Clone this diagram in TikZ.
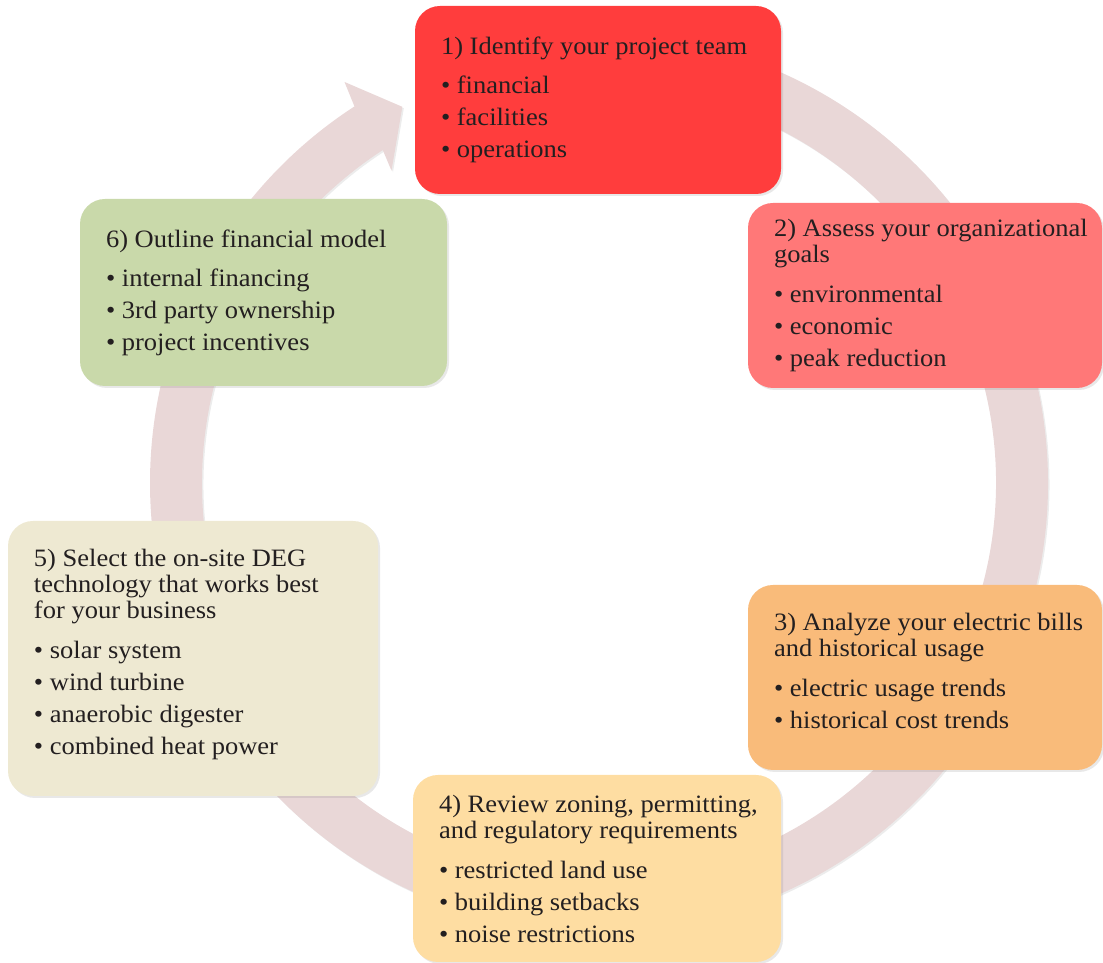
\documentclass[tikz,border=0pt]{standalone}
\usepackage{fontspec}
\setmainfont{Liberation Serif}[FakeStretch=1.06]
\usepackage{tikz}
\usetikzlibrary{shapes, arrows.meta, positioning, calc, shadows}
\definecolor{ringpink}{RGB}{233, 215, 215}
\definecolor{teamred}{RGB}{255, 61, 61}
\definecolor{goalred}{RGB}{255, 120, 120}
\definecolor{billorange}{RGB}{249, 187, 122}
\definecolor{zonesand}{RGB}{254, 221, 162}
\definecolor{techcream}{RGB}{238, 233, 210}
\definecolor{financegreen}{RGB}{201, 217, 170}
\definecolor{inkdark}{RGB}{35, 31, 32}
\newcommand{\itm}{\\[6pt]\textbullet~}
\newcommand{\ttl}[1]{\mbox{#1}}

\begin{document}
\begin{tikzpicture}[x=1pt, y=1pt,
  stepbox/.style={rounded corners=25pt, text width=#1-52pt, inner xsep=26pt, inner ysep=8pt,
    align=flush left, text=inkdark, font=\fontsize{25}{26}\selectfont,
    drop shadow={opacity=0.18, shadow xshift=2pt, shadow yshift=-2pt}}]
  \useasboundingbox (0,0) rectangle (1103,963);
  % cycle arrow behind the boxes
  \coordinate (ring) at (599,480);
  \fill[ringpink, drop shadow={opacity=0.15, shadow xshift=1.5pt, shadow yshift=-1.5pt}]
    ($(ring)+(95:449)$) arc[start angle=95, end angle=-237, radius=449]
    -- ($(ring)+(122.4:475)$) -- ($(ring)+(117.6:424.5)$) -- ($(ring)+(123.6:375)$)
    -- ($(ring)+(123:397)$) arc[start angle=-237, end angle=95, radius=397] -- cycle;
  % steps
  \node[stepbox=366pt, fill=teamred, minimum width=366pt, minimum height=188pt] (team) at (598,863)
    {\ttl{1) Identify your project team}\\[13pt]\textbullet~financial\itm facilities\itm operations};
  \node[stepbox=354pt, fill=goalred, minimum width=354pt, minimum height=185pt] (goals) at (925,667.5)
    {\ttl{2) Assess your organizational}\\goals\\[14pt]\textbullet~environmental\itm economic\itm peak reduction};
  \node[stepbox=354pt, fill=billorange, minimum width=354pt, minimum height=185pt] (bills) at (925,285.5)
    {\ttl{3) Analyze your electric bills}\\\ttl{and historical usage}\\[14pt]\textbullet~electric usage trends\itm historical cost trends\par\vspace{14pt}};
  \node[stepbox=368pt, fill=zonesand, minimum width=368pt, minimum height=187pt] (zoning) at (597,94.5)
    {\ttl{4) Review zoning, permitting,}\\\ttl{and regulatory requirements}\\[14pt]\textbullet~restricted land use\itm building setbacks\itm noise restrictions};
  \node[stepbox=370pt, fill=techcream, minimum width=370pt, minimum height=275pt] (tech) at (193,304.5)
    {\ttl{5) Select the on-site DEG}\\\ttl{technology that works best}\\\ttl{for your business}\\[14pt]\textbullet~solar system\itm wind turbine\itm anaerobic digester\itm combined heat power\par\vspace{8pt}};
  \node[stepbox=367pt, fill=financegreen, minimum width=367pt, minimum height=187pt] (finance) at (263.5,670.5)
    {\ttl{6) Outline financial model}\\[13pt]\textbullet~internal financing\itm 3rd party ownership\itm project incentives};
\end{tikzpicture}
\end{document}
